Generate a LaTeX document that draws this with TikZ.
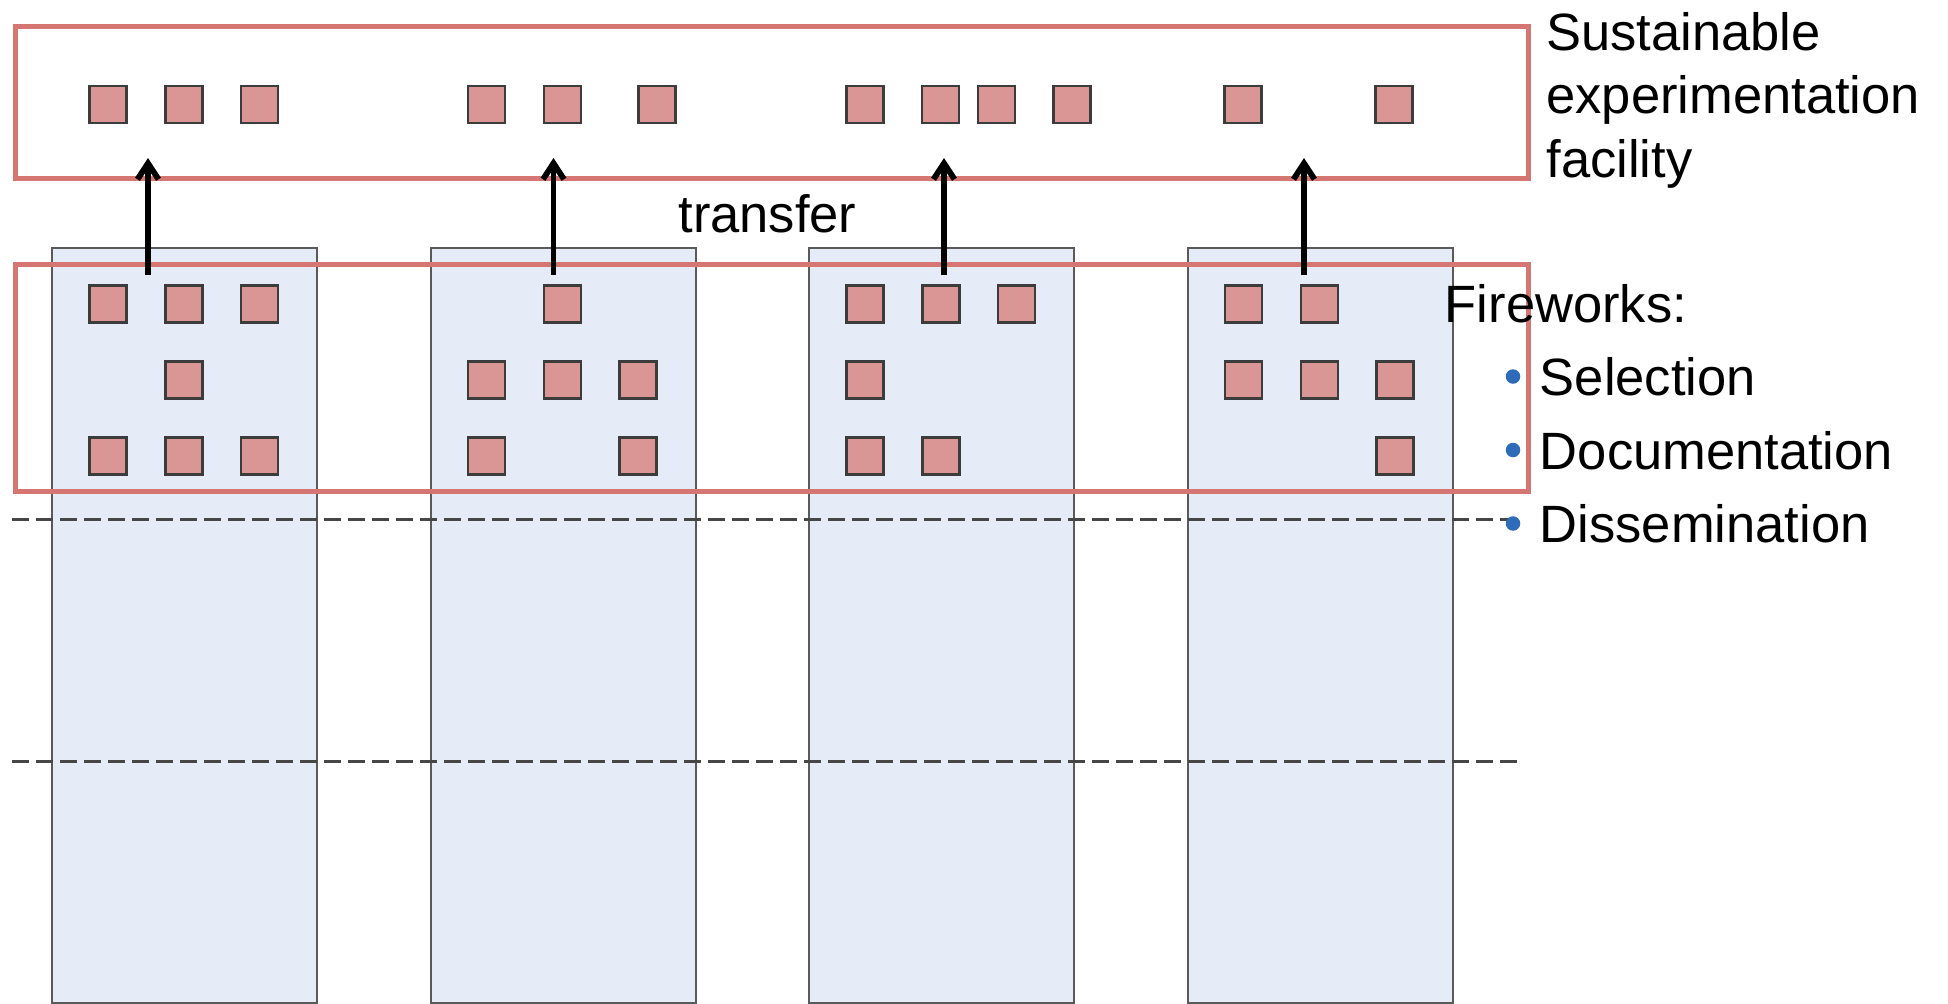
\documentclass[tikz,border=0pt]{standalone}
\usepackage{fontspec}
\setmainfont{Liberation Sans}
\usetikzlibrary{arrows.meta}
\definecolor{redline}{RGB}{214,118,114}
\definecolor{sqfill}{RGB}{217,150,148}
\definecolor{sqdraw}{RGB}{60,60,60}
\definecolor{colfill}{RGB}{230,236,247}
\definecolor{coldraw}{RGB}{90,90,90}
\definecolor{dashcol}{RGB}{70,70,70}
\definecolor{bulletblue}{RGB}{46,108,185}
\begin{document}
\begin{tikzpicture}[x=0.5pt,y=-0.5pt,
  colbox/.style={draw=coldraw, fill=colfill, line width=1.1pt, minimum width=132.5pt, minimum height=377.75pt, inner sep=0pt, anchor=north west},
  redbox/.style={draw=redline, line width=2.5pt, minimum width=756.5pt, inner sep=0pt, anchor=north west},
  sq/.style={draw=sqdraw, fill=sqfill, line width=1.2pt, minimum size=18.5pt, inner sep=0pt},
  arr/.style={line width=2.9pt, -{Straight Barb[length=8pt,width=10.5pt]}},
  dashln/.style={draw=dashcol, line width=1.5pt, dash pattern=on 8.5pt off 3.5pt},
  txt/.style={font=\fontsize{26.25}{31.75}\selectfont, inner sep=0pt, anchor=base west},
  bul/.style={circle, fill=bulletblue, minimum size=7.25pt, inner sep=0pt}]
\useasboundingbox (0,0) rectangle (1948,1003);
% columns
\node[colbox] (c1) at (51,246.5) {};
\node[colbox] (c2) at (429.5,246.5) {};
\node[colbox] (c3) at (808,246.5) {};
\node[colbox] (c4) at (1186.5,246.5) {};
% dashed lines
\coordinate (d1a) at (12,519.5);
\coordinate (d1b) at (1508,519.5);
\coordinate (d2a) at (12,761);
\coordinate (d2b) at (1518,761);
\draw[dashln] (d1a) -- (d1b);
\draw[dashln] (d2a) -- (d2b);
% red frames
\node[redbox, minimum height=75.7pt] (top) at (12.5,24.3) {};
\node[redbox, minimum height=113.25pt] (low) at (12.5,262) {};
% top row squares
\foreach \x [count=\i] in {108,184,259.5,486.5,562.5,657,865,940.5,996.5,1072,1243,1394}
  \node[sq] (t\i) at (\x,104.5) {};
% lower squares
\foreach \x/\y [count=\i] in {108/304,184/304,259.5/304,184/380,108/456,184/456,259.5/456,
  562.5/304,486.5/380,562.5/380,638/380,486.5/456,638/456,
  865/304,941/304,1016.5/304,865/380,865/456,941/456,
  1243.5/304,1319.5/304,1243.5/380,1319.5/380,1395/380,1395/456}
  \node[sq] (s\i) at (\x,\y) {};
% arrows
\foreach \x [count=\i] in {148,553.5,944,1304}{
  \coordinate (a\i s) at (\x,275);
  \coordinate (a\i e) at (\x,158);
  \draw[arr] (a\i s) -- (a\i e);
}
% texts
\node[txt] (sef1) at (1546,50) {Sustainable};
\node[txt] (sef2) at (1546,113.5) {experimentation};
\node[txt] (sef3) at (1546,177) {facility};
\node[txt] (transfer) at (678,232) {transfer};
\node[txt] (fw) at (1444.5,322.5) {Fireworks:};
\node[bul] (b1) at (1513,376.5) {};
\node[bul] (b2) at (1513,450) {};
\node[bul] (b3) at (1513,523.5) {};
\node[txt] (i1) at (1539.5,395.7) {Selection};
\node[txt] (i2) at (1539.5,469.6) {Documentation};
\node[txt] (i3) at (1539.5,542.8) {Dissemination};
\end{tikzpicture}
\end{document}
